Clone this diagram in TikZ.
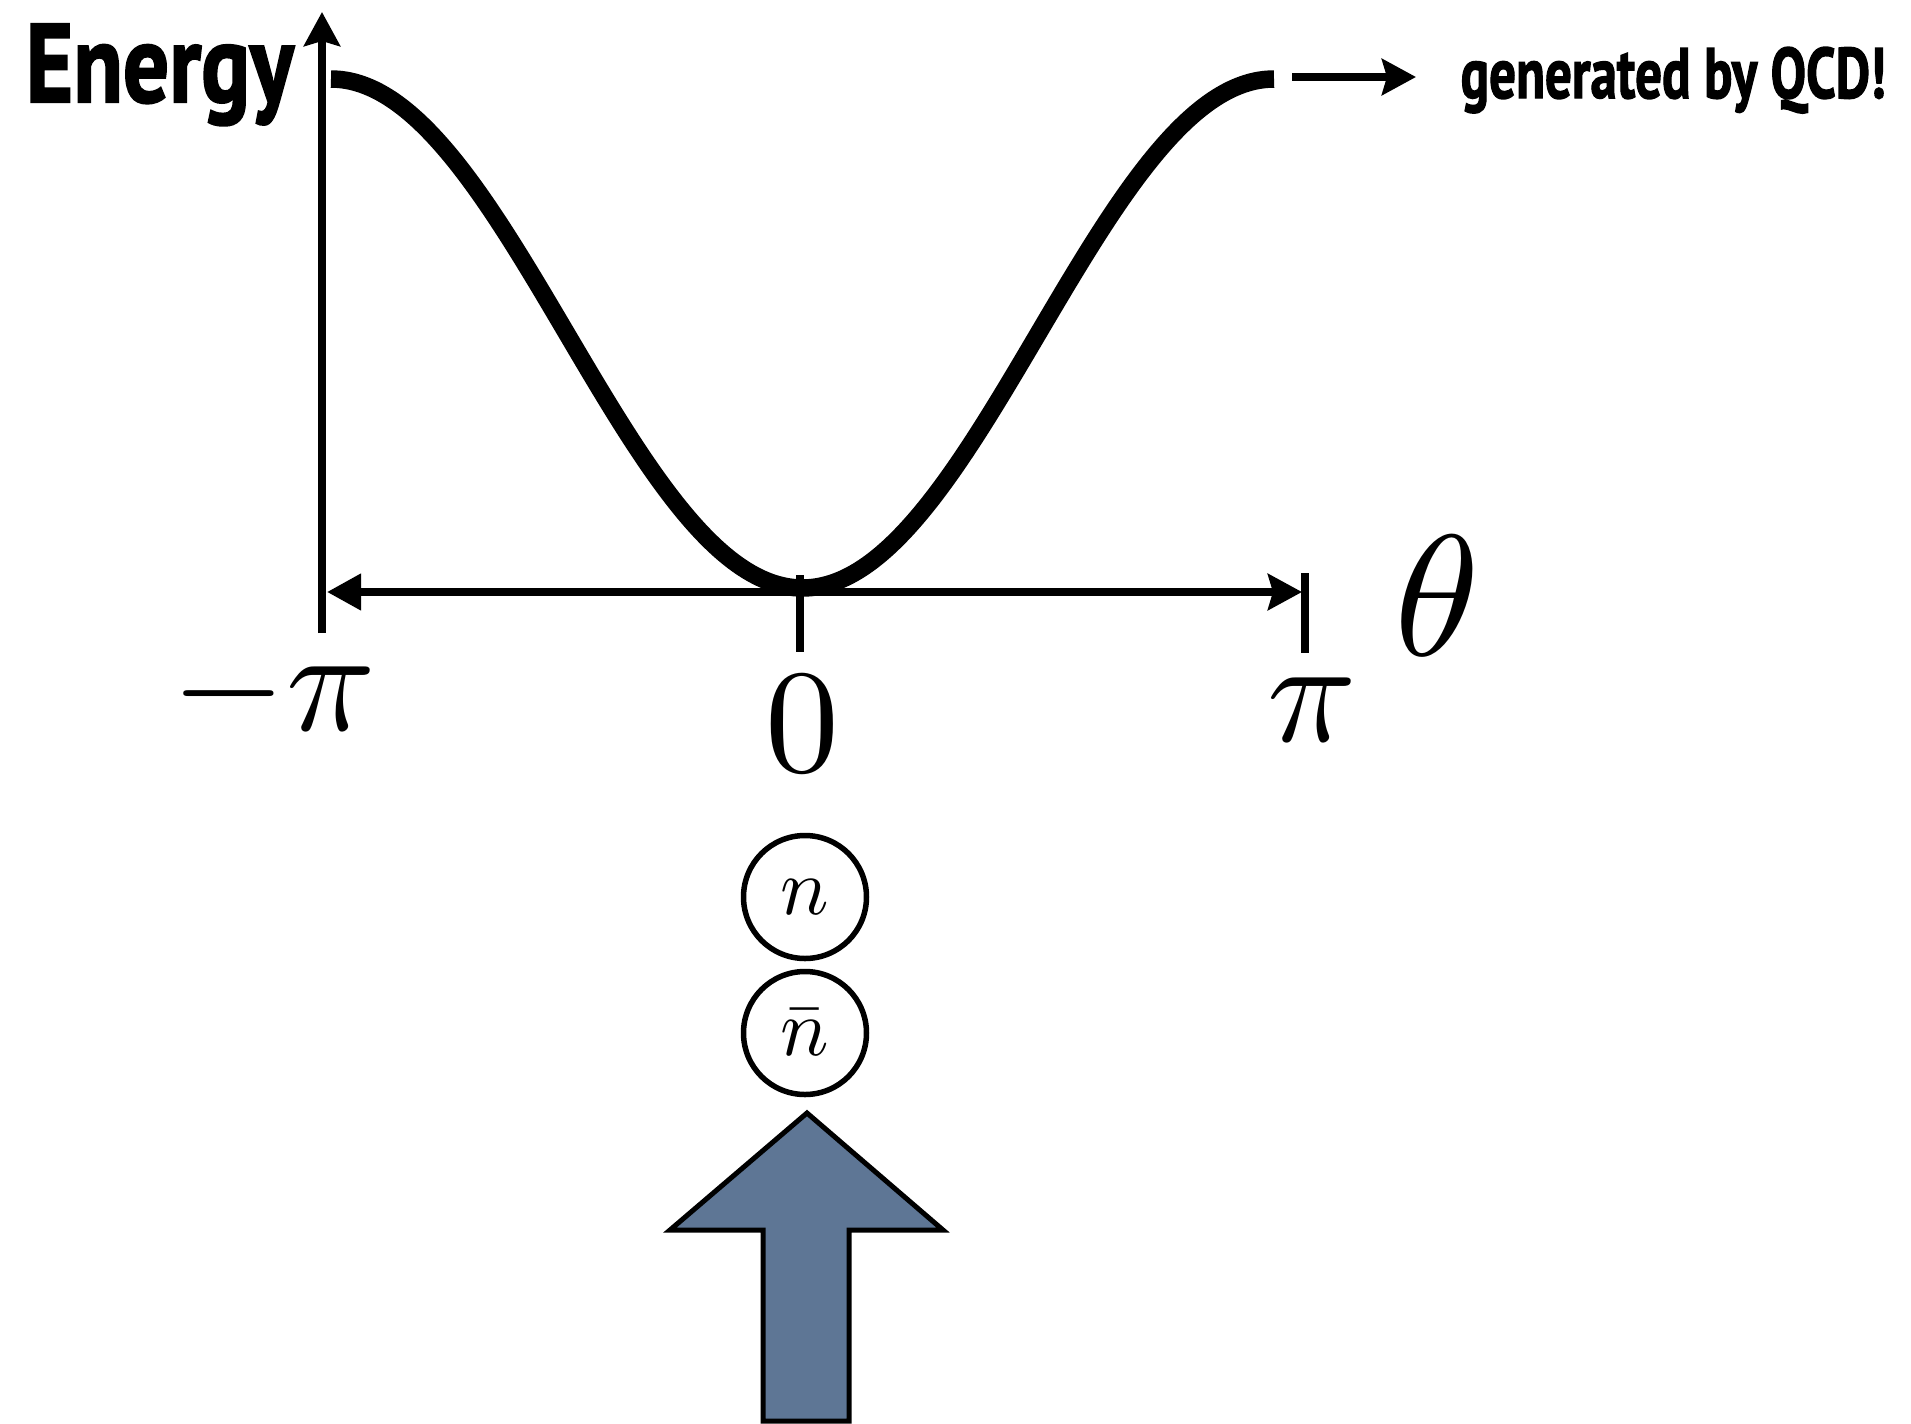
\documentclass[tikz,border=0pt]{standalone}
\usepackage{graphicx}
\usepackage{fontspec}
\newfontfamily\headfont{PT Sans}[BoldFeatures={FakeBold=2}]
\usetikzlibrary{arrows.meta}
\definecolor{slate}{RGB}{94,118,149}
\newcommand{\axlbl}[1]{\scalebox{4.2}{$#1$}}
\newcommand{\balllbl}[1]{\scalebox{2.3}{$#1$}}
\tikzset{
  axisline/.style={line width=0.75mm, line cap=butt},
  tipS/.tip={Stealth[length=3.4mm,width=3.6mm,inset=0.5mm]},
  tipT/.tip={Triangle[length=3.4mm,width=3.5mm]},
  ball/.style={circle, draw, line width=0.55mm, minimum size=12.3mm, inner sep=0pt},
  bigmath/.style={inner sep=0pt, anchor=base},
  curve/.style={line width=1.75mm, line cap=butt},
  blockarrow/.style={fill=slate, draw=black, line width=0.5mm, line join=miter}
}
\begin{document}
\begin{tikzpicture}[x=0.1mm,y=-0.1mm]
\useasboundingbox (0,0) rectangle (1911,1424);
% labels
\node[inner sep=0pt, anchor=base west] (energy) at (25,102) {\resizebox{26.8mm}{7.8mm}{\headfont\bfseries Energy}};
\node[inner sep=0pt, anchor=base west] (qcd) at (1460,98) {\resizebox{42.5mm}{5.1mm}{\headfont\bfseries generated by QCD!}};
% axes coordinates
\coordinate (ybot) at (322,633);
\coordinate (ytop) at (322,12);
\coordinate (xl) at (327,592);
\coordinate (xr) at (1302,592);
\coordinate (t0a) at (800,575);
\coordinate (t0b) at (800,652);
\coordinate (tpa) at (1305,573);
\coordinate (tpb) at (1305,653);
\coordinate (qa) at (1292,77);
\coordinate (qb) at (1416,77);
% axes
\draw[axisline,-{tipS}] (ybot) -- (ytop);
\draw[axisline,{tipT}-{tipS}] (xl) -- (xr);
\draw[axisline] (t0a) -- (t0b);
\draw[axisline] (tpa) -- (tpb);
\draw[axisline,-{tipS}] (qa) -- (qb);
% curve
\draw[curve] plot[domain=-180:180, samples=121, smooth] ({802.5+2.61944*\x},{79+254.5*(1+cos(\x))});
% math labels
\node[bigmath] (mpi) at (274,730) {\axlbl{-\pi}};
\node[bigmath] (zero) at (802,771) {\axlbl{0}};
\node[bigmath] (ppi) at (1312,741) {\axlbl{\pi}};
\node[bigmath] (theta) at (1437,655) {\scalebox{4.9}{$\theta$}};
% particles
\node[ball] (n) at (805,897) {\balllbl{n}};
\node[ball] (nbar) at (805,1033) {\balllbl{\bar{n}}};
% block arrow
\draw[blockarrow] (807,1113) -- (943,1230) -- (849,1230) -- (849,1421) -- (763,1421) -- (763,1230) -- (670,1230) -- cycle;
\end{tikzpicture}
\end{document}
